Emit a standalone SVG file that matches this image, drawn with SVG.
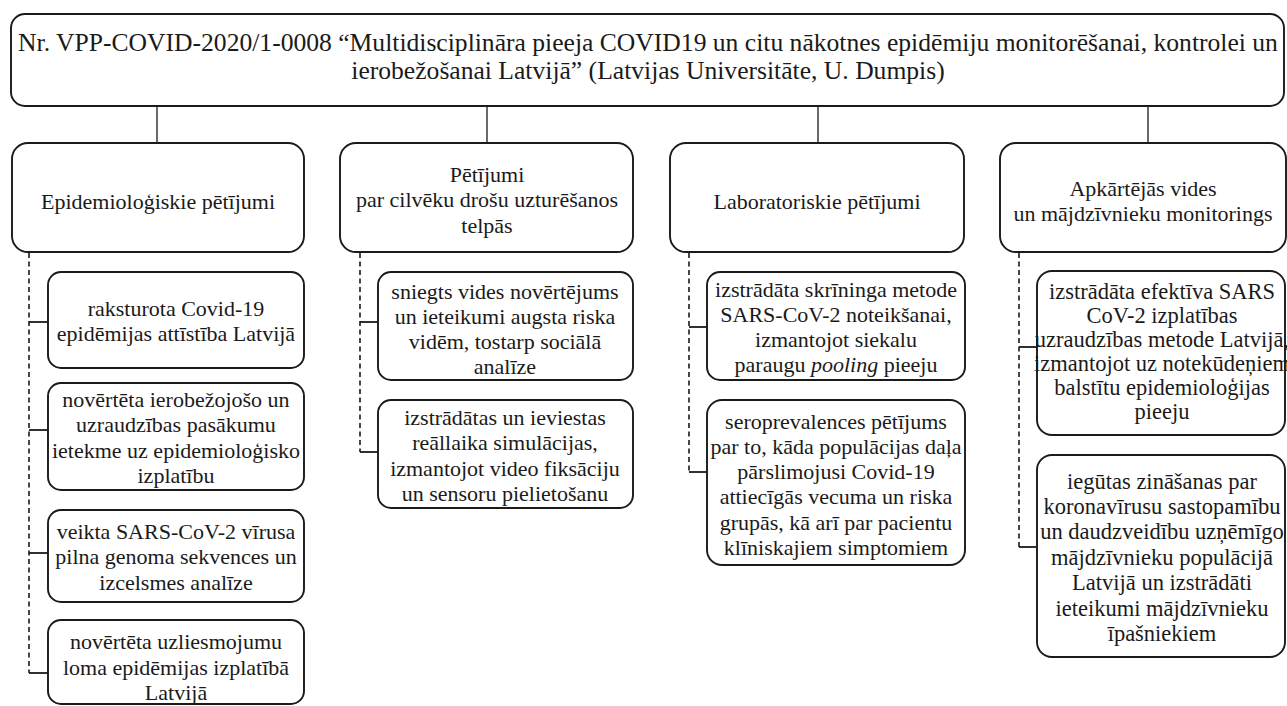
<svg xmlns="http://www.w3.org/2000/svg" width="1287" height="706" viewBox="0 0 1287 706">
  <style>
    .tx { font-family: 'Liberation Serif', serif; fill: #1a1a1a; text-anchor: middle; }
    .box { fill: #ffffff; stroke: #1a1a1a; stroke-width: 1.9; }
    .link { stroke: #1a1a1a; stroke-width: 1.3; fill: none; }
    .dash { stroke: #1a1a1a; stroke-width: 1.6; fill: none; stroke-dasharray: 5 3.5; }
    .tick { stroke: #1a1a1a; stroke-width: 1.8; fill: none; }
  </style>
  <rect width="1287" height="706" fill="#ffffff"/>

  <!-- connectors -->
  <g id="connectors">
    <line class="link" x1="157" y1="106" x2="157" y2="143"/>
    <line class="link" x1="487" y1="106" x2="487" y2="143"/>
    <line class="link" x1="818" y1="106" x2="818" y2="143"/>
    <line class="link" x1="1148" y1="106" x2="1148" y2="143"/>
    <!-- column 1 -->
    <line class="dash" x1="29" y1="253" x2="29" y2="673"/>
    <line class="tick" x1="29" y1="322" x2="48" y2="322"/>
    <line class="tick" x1="29" y1="430" x2="48" y2="430"/>
    <line class="tick" x1="29" y1="553" x2="48" y2="553"/>
    <line class="tick" x1="29" y1="673" x2="48" y2="673"/>
    <!-- column 2 -->
    <line class="dash" x1="360" y1="253" x2="360" y2="452"/>
    <line class="tick" x1="360" y1="322" x2="378" y2="322"/>
    <line class="tick" x1="360" y1="452" x2="378" y2="452"/>
    <!-- column 3 -->
    <line class="dash" x1="689" y1="253" x2="689" y2="472"/>
    <line class="tick" x1="689" y1="327" x2="707" y2="327"/>
    <line class="tick" x1="689" y1="472" x2="707" y2="472"/>
    <!-- column 4 -->
    <line class="dash" x1="1019" y1="253" x2="1019" y2="547"/>
    <line class="tick" x1="1019" y1="347" x2="1037" y2="347"/>
    <line class="tick" x1="1019" y1="547" x2="1037" y2="547"/>
  </g>

  <!-- project title -->
  <g id="project">
    <rect class="box" x="11" y="14" width="1273" height="92" rx="14"/>
    <text class="tx" font-family="Liberation Serif" font-size="25.6" x="648" y="51">Nr. VPP-COVID-2020/1-0008 “Multidisciplināra pieeja COVID19 un citu nākotnes epidēmiju monitorēšanai, kontrolei un</text>
    <text class="tx" font-family="Liberation Serif" font-size="25.6" x="648" y="79">ierobežošanai Latvijā” (Latvijas Universitāte, U. Dumpis)</text>
  </g>

  <!-- column headers -->
  <g id="epidemiology">
    <rect class="box" x="12" y="143" width="292" height="109" rx="16"/>
    <text class="tx" font-family="Liberation Serif" font-size="22" x="158" y="209">Epidemioloģiskie pētījumi</text>
  </g>
  <g id="indoor-safety">
    <rect class="box" x="340" y="143" width="293" height="109" rx="16"/>
    <text class="tx" font-family="Liberation Serif" font-size="22" x="487" y="182">Pētījumi</text>
    <text class="tx" font-family="Liberation Serif" font-size="22" x="487" y="207">par cilvēku drošu uzturēšanos</text>
    <text class="tx" font-family="Liberation Serif" font-size="22" x="487" y="233">telpās</text>
  </g>
  <g id="laboratory">
    <rect class="box" x="670" y="143" width="294" height="109" rx="16"/>
    <text class="tx" font-family="Liberation Serif" font-size="22" x="817" y="209">Laboratoriskie pētījumi</text>
  </g>
  <g id="environment">
    <rect class="box" x="1000" y="143" width="286" height="109" rx="16"/>
    <text class="tx" font-family="Liberation Serif" font-size="22" x="1143" y="196">Apkārtējās vides</text>
    <text class="tx" font-family="Liberation Serif" font-size="22" x="1143" y="221">un mājdzīvnieku monitorings</text>
  </g>

  <!-- column 1 results -->
  <g id="epi-1">
    <rect class="box" x="48" y="272" width="256" height="96" rx="13"/>
    <text class="tx" font-family="Liberation Serif" font-size="22" x="176" y="316">raksturota Covid-19</text>
    <text class="tx" font-family="Liberation Serif" font-size="22" x="176" y="341">epidēmijas attīstība Latvijā</text>
  </g>
  <g id="epi-2">
    <rect class="box" x="48" y="383" width="256" height="107" rx="13"/>
    <text class="tx" font-family="Liberation Serif" font-size="22" x="176" y="407">novērtēta ierobežojošo un</text>
    <text class="tx" font-family="Liberation Serif" font-size="22" x="176" y="432">uzraudzības pasākumu</text>
    <text class="tx" font-family="Liberation Serif" font-size="22" x="176" y="458">ietekme uz epidemioloģisko</text>
    <text class="tx" font-family="Liberation Serif" font-size="22" x="176" y="483">izplatību</text>
  </g>
  <g id="epi-3">
    <rect class="box" x="48" y="510" width="256" height="92" rx="13"/>
    <text class="tx" font-family="Liberation Serif" font-size="22" x="176" y="539">veikta SARS-CoV-2 vīrusa</text>
    <text class="tx" font-family="Liberation Serif" font-size="22" x="176" y="564">pilna genoma sekvences un</text>
    <text class="tx" font-family="Liberation Serif" font-size="22" x="176" y="590">izcelsmes analīze</text>
  </g>
  <g id="epi-4">
    <rect class="box" x="48" y="620" width="256" height="84" rx="13"/>
    <text class="tx" font-family="Liberation Serif" font-size="22" x="176" y="649">novērtēta uzliesmojumu</text>
    <text class="tx" font-family="Liberation Serif" font-size="22" x="176" y="675">loma epidēmijas izplatībā</text>
    <text class="tx" font-family="Liberation Serif" font-size="22" x="176" y="700">Latvijā</text>
  </g>

  <!-- column 2 results -->
  <g id="indoor-1">
    <rect class="box" x="378" y="272" width="255" height="108" rx="13"/>
    <text class="tx" font-family="Liberation Serif" font-size="22" x="505" y="299">sniegts vides novērtējums</text>
    <text class="tx" font-family="Liberation Serif" font-size="22" x="505" y="324">un ieteikumi augsta riska</text>
    <text class="tx" font-family="Liberation Serif" font-size="22" x="505" y="349">vidēm, tostarp sociālā</text>
    <text class="tx" font-family="Liberation Serif" font-size="22" x="505" y="374">analīze</text>
  </g>
  <g id="indoor-2">
    <rect class="box" x="378" y="400" width="255" height="108" rx="13"/>
    <text class="tx" font-family="Liberation Serif" font-size="22" x="505" y="425">izstrādātas un ieviestas</text>
    <text class="tx" font-family="Liberation Serif" font-size="22" x="505" y="450">reāllaika simulācijas,</text>
    <text class="tx" font-family="Liberation Serif" font-size="22" x="505" y="476">izmantojot video fiksāciju</text>
    <text class="tx" font-family="Liberation Serif" font-size="22" x="505" y="501">un sensoru pielietošanu</text>
  </g>

  <!-- column 3 results -->
  <g id="lab-1">
    <rect class="box" x="707" y="272" width="258" height="108" rx="13"/>
    <text class="tx" font-family="Liberation Serif" font-size="22" x="836" y="297">izstrādāta skrīninga metode</text>
    <text class="tx" font-family="Liberation Serif" font-size="22" x="836" y="322">SARS-CoV-2 noteikšanai,</text>
    <text class="tx" font-family="Liberation Serif" font-size="22" x="836" y="347">izmantojot siekalu</text>
    <text class="tx" font-family="Liberation Serif" font-size="22" x="836" y="372">paraugu <tspan font-style="italic">pooling</tspan> pieeju</text>
  </g>
  <g id="lab-2">
    <rect class="box" x="707" y="400" width="258" height="165" rx="15"/>
    <text class="tx" font-family="Liberation Serif" font-size="22" x="836" y="429">seroprevalences pētījums</text>
    <text class="tx" font-family="Liberation Serif" font-size="22" x="836" y="454">par to, kāda populācijas daļa</text>
    <text class="tx" font-family="Liberation Serif" font-size="22" x="836" y="479">pārslimojusi Covid-19</text>
    <text class="tx" font-family="Liberation Serif" font-size="22" x="836" y="504">attiecīgās vecuma un riska</text>
    <text class="tx" font-family="Liberation Serif" font-size="22" x="836" y="530">grupās, kā arī par pacientu</text>
    <text class="tx" font-family="Liberation Serif" font-size="22" x="836" y="555">klīniskajiem simptomiem</text>
  </g>

  <!-- column 4 results -->
  <g id="env-1">
    <rect class="box" x="1037" y="271" width="248" height="164" rx="15"/>
    <text class="tx" font-family="Liberation Serif" font-size="22.5" x="1162" y="299">izstrādāta efektīva SARS</text>
    <text class="tx" font-family="Liberation Serif" font-size="22.5" x="1162" y="323">CoV-2 izplatības</text>
    <text class="tx" font-family="Liberation Serif" font-size="22.5" x="1162" y="347">uzraudzības metode Latvijā,</text>
    <text class="tx" font-family="Liberation Serif" font-size="22.5" x="1162" y="371">izmantojot uz notekūdeņiem</text>
    <text class="tx" font-family="Liberation Serif" font-size="22.5" x="1162" y="395">balstītu epidemioloģijas</text>
    <text class="tx" font-family="Liberation Serif" font-size="22.5" x="1162" y="419">pieeju</text>
  </g>
  <g id="env-2">
    <rect class="box" x="1037" y="455" width="248" height="202" rx="15"/>
    <text class="tx" font-family="Liberation Serif" font-size="22.5" x="1162" y="489">iegūtas zināšanas par</text>
    <text class="tx" font-family="Liberation Serif" font-size="22.5" x="1162" y="514">koronavīrusu sastopamību</text>
    <text class="tx" font-family="Liberation Serif" font-size="22.5" x="1162" y="539">un daudzveidību uzņēmīgo</text>
    <text class="tx" font-family="Liberation Serif" font-size="22.5" x="1162" y="565">mājdzīvnieku populācijā</text>
    <text class="tx" font-family="Liberation Serif" font-size="22.5" x="1162" y="590">Latvijā un izstrādāti</text>
    <text class="tx" font-family="Liberation Serif" font-size="22.5" x="1162" y="616">ieteikumi mājdzīvnieku</text>
    <text class="tx" font-family="Liberation Serif" font-size="22.5" x="1162" y="641">īpašniekiem</text>
  </g>
</svg>
